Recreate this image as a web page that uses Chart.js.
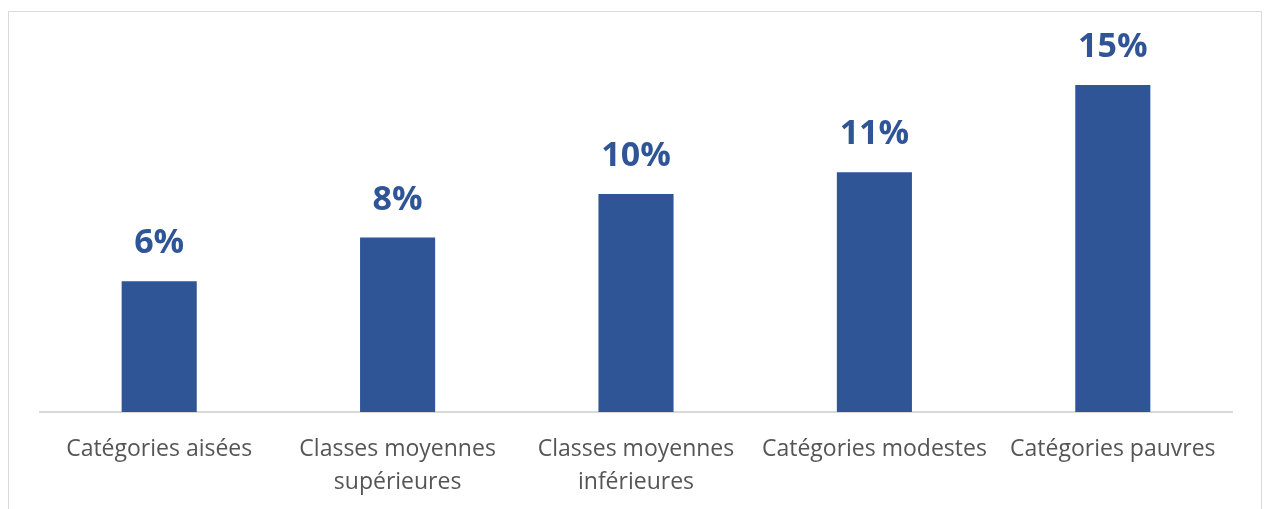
<!DOCTYPE html>
<html>
<head>
<meta charset="utf-8">
<script src="https://cdn.jsdelivr.net/npm/chart.js@4"></script>
<style>
  html, body { margin: 0; padding: 0; background: #fff; }
  body { width: 1265px; height: 509px; position: relative; overflow: hidden; }
  .frame { position: absolute; left: 8px; top: 11px; width: 1252px; height: 520px; border: 1px solid #d9d9d9; }
  #wrap { position: absolute; left: 0; top: 0; width: 1265px; height: 509px; }
</style>
</head>
<body>
<div class="frame"></div>
<div id="wrap"><canvas id="bars"></canvas></div>
<script>
const categories = [
  ['Catégories aisées'],
  ['Classes moyennes', 'supérieures'],
  ['Classes moyennes', 'inférieures'],
  ['Catégories modestes'],
  ['Catégories pauvres']
];
const values = [6, 8, 10, 11, 15];

const blue = '#2f5597';

const labelPlugin = {
  id: 'valueLabels',
  afterDatasetsDraw(chart) {
    const ctx = chart.ctx;
    const meta = chart.getDatasetMeta(0);
    ctx.save();
    ctx.fillStyle = blue;
    ctx.font = 'bold 34px "Open Sans"';
    ctx.textAlign = 'center';
    ctx.textBaseline = 'alphabetic';
    meta.data.forEach((bar, i) => {
      ctx.fillText(values[i] + '%', bar.x, bar.y - 28);
    });
    ctx.restore();
  }
};

const ctxBars = document.getElementById('bars');

new Chart(ctxBars, {
  type: 'bar',
  data: {
    labels: categories,
    datasets: [{
      data: values,
      backgroundColor: blue,
      barPercentage: 0.315,
      categoryPercentage: 1
    }]
  },
  options: {
    responsive: true,
    maintainAspectRatio: false,
    animation: false,
    layout: { padding: { left: 40, right: 33, top: 85, bottom: 0 } },
    plugins: {
      legend: { display: false },
      tooltip: { enabled: false }
    },
    scales: {
      y: {
        display: false,
        min: 0,
        max: 15
      },
      x: {
        grid: { display: false, drawTicks: false },
        border: { color: '#d9d9d9', width: 2 },
        ticks: {
          color: '#555555',
          font: { family: 'Open Sans', size: 23, lineHeight: 1.43 },
          padding: 21,
          maxRotation: 0,
          autoSkip: false
        },
        afterFit(scale) { scale.height = 97; }
      }
    }
  },
  plugins: [labelPlugin]
});
</script>
</body>
</html>
